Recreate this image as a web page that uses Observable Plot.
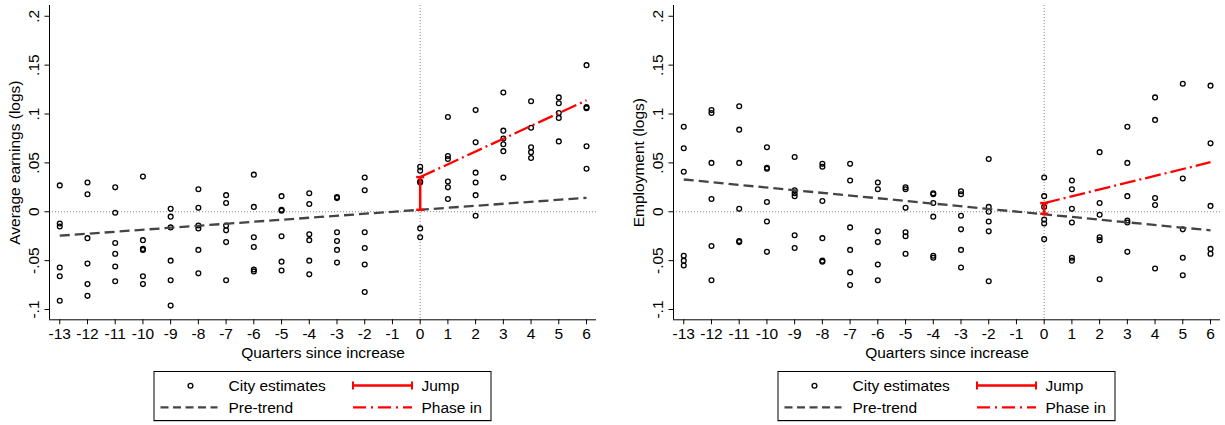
<!DOCTYPE html>
<html><head><meta charset="utf-8">
<script src="https://cdn.jsdelivr.net/npm/d3@7"></script>
<script src="https://cdn.jsdelivr.net/npm/@observablehq/plot@0.6"></script>
<style>
html,body{margin:0;padding:0;background:#fff;}
#wrap{display:flex;width:1225px;height:425px;overflow:hidden;}
.panel{display:flex;flex-direction:column;}
svg{display:block;}
svg text{font-family:"Liberation Sans",Arial,sans-serif;}
</style></head><body><div id="wrap"></div>
<script>
// ---- data ----
const quarters = [-13,-12,-11,-10,-9,-8,-7,-6,-5,-4,-3,-2,0,1,2,3,4,5,6];
const xTicks = [-13,-12,-11,-10,-9,-8,-7,-6,-5,-4,-3,-2,-1,0,1,2,3,4,5,6];
const yTicks = [-0.1,-0.05,0,0.05,0.1,0.15,0.2];
const yTickLabels = ["-.1","-.05","0",".05",".1",".15",".2"];
const xDomain = [-13.37, 6.36];
const yDomain = [-0.1105, 0.211];

const earningsCities = [
  [0.027,-0.012,-0.015,-0.057,-0.066,-0.091],
  [0.030,0.018,-0.027,-0.053,-0.074,-0.086],
  [0.025,-0.001,-0.032,-0.043,-0.056,-0.071],
  [0.036,-0.029,-0.038,-0.039,-0.066,-0.074],
  [0.003,-0.005,-0.016,-0.050,-0.070,-0.096],
  [0.023,0.004,-0.014,-0.017,-0.039,-0.063],
  [0.017,0.009,-0.014,-0.019,-0.031,-0.070],
  [0.038,0.005,-0.026,-0.036,-0.059,-0.061],
  [0.016,0.002,0.001,-0.025,-0.051,-0.060],
  [0.019,0.008,-0.023,-0.029,-0.050,-0.064],
  [0.015,0.014,-0.021,-0.030,-0.039,-0.052],
  [0.035,0.022,-0.021,-0.037,-0.054,-0.082],
  [0.046,0.042,0.031,0.030,-0.017,-0.026],
  [0.097,0.057,0.054,0.031,0.025,0.013],
  [0.104,0.071,0.040,0.030,0.017,-0.004],
  [0.122,0.083,0.075,0.069,0.062,0.035],
  [0.113,0.086,0.066,0.061,0.055],
  [0.117,0.111,0.101,0.096,0.072],
  [0.150,0.107,0.106,0.067,0.044]
];
const employmentCities = [
  [0.087,0.065,0.041,-0.045,-0.050,-0.055],
  [0.104,0.101,0.050,0.013,-0.035,-0.070],
  [0.108,0.084,0.050,0.003,-0.031,-0.030],
  [0.066,0.045,0.044,0.010,-0.010,-0.041],
  [0.056,0.022,0.019,0.016,-0.024,-0.037],
  [0.049,0.046,0.011,-0.027,-0.050,-0.051],
  [0.049,0.032,-0.016,-0.039,-0.062,-0.075],
  [0.030,0.023,-0.020,-0.031,-0.054,-0.070],
  [0.025,0.023,0.004,-0.021,-0.025,-0.043],
  [0.019,0.018,0.009,-0.005,-0.045,-0.047],
  [0.021,0.018,-0.004,-0.018,-0.039,-0.057],
  [0.054,0.005,0.000,-0.010,-0.020,-0.071],
  [0.035,0.016,0.005,-0.008,-0.012,-0.028],
  [0.032,0.023,0.003,-0.011,-0.047,-0.050],
  [0.061,0.009,-0.003,-0.026,-0.029,-0.069],
  [0.087,0.050,0.016,-0.009,-0.011,-0.041],
  [0.117,0.094,0.014,0.007,-0.058],
  [0.131,0.034,-0.018,-0.047,-0.065],
  [0.129,0.070,0.006,-0.038,-0.043]
];

const trendQuarters = [-13, 6];
const earningsPreTrend = [-0.0245, 0.0143];
const employmentPreTrend = [0.033, -0.019];
const phaseQuarters = [0, 6];
const earningsPhaseIn = [0.0355, 0.114];
const employmentPhaseIn = [0.0089, 0.0507];
const jumpQuarter = 0;
const earningsJump = [0.002, 0.0355];
const employmentJump = [-0.002, 0.0089];

const legendLabels = ["City estimates", "Jump", "Pre-trend", "Phase in"];

// ---- drawing ----
const FONT = "Liberation Sans, Arial, sans-serif";
const RED = "#ff0000";
const GRAY = "#444444";
const capSymbol = {draw(ctx) { ctx.moveTo(-4, 0); ctx.lineTo(4, 0); }};

function makePanel(opts) {
  const {width, marginLeft, marginRight, yLabel, cities, preTrend, phaseIn, jump} = opts;
  const height = 366, marginTop = 5, marginBottom = 46.7;
  const pts = [];
  quarters.forEach((q, i) => cities[i].forEach(v => pts.push({q, v})));
  const trend = trendQuarters.map((q, i) => ({q, v: preTrend[i]}));
  const phase = phaseQuarters.map((q, i) => ({q, v: phaseIn[i]}));
  const jumpPts = jump.map(v => ({q: jumpQuarter, v}));

  const plot = Plot.plot({
    width, height, marginLeft, marginRight, marginTop, marginBottom,
    style: {fontFamily: FONT, fontSize: "15.5px", color: "#000", background: "#fff", overflow: "visible"},
    x: {domain: xDomain},
    y: {domain: yDomain},
    marks: [
      Plot.ruleY([0], {stroke: "#888", strokeWidth: 1, strokeDasharray: "1,2"}),
      Plot.ruleX([0], {stroke: "#888", strokeWidth: 1, strokeDasharray: "1,2"}),
      Plot.ruleX([xDomain[0]], {stroke: "#000", strokeWidth: 1}),
      Plot.ruleY([yDomain[0]], {stroke: "#000", strokeWidth: 1}),
      Plot.dot(pts, {x: "q", y: "v", r: 2.4, stroke: "#000", strokeWidth: 1.3, fill: "none"}),
      Plot.line(trend, {x: "q", y: "v", stroke: GRAY, strokeWidth: 2.3, strokeDasharray: "10,5", strokeLinecap: "butt"}),
      Plot.line(phase, {x: "q", y: "v", stroke: RED, strokeWidth: 2.3, strokeDasharray: "16,4,2,4", strokeLinecap: "butt"}),
      Plot.line(jumpPts, {x: "q", y: "v", stroke: RED, strokeWidth: 2.5, strokeLinecap: "butt"}),
      Plot.dot(jumpPts, {x: "q", y: "v", symbol: capSymbol, stroke: RED, strokeWidth: 2.5, fill: "none"}),
      Plot.axisX({ticks: xTicks, tickSize: 5, tickPadding: 3.5, tickFormat: d => String(d),
        label: "Quarters since increase", labelAnchor: "center", labelOffset: 38, labelArrow: "none", fontSize: 15.5}),
      Plot.axisY({ticks: yTicks, tickSize: 4.5, tickPadding: 6, tickRotate: -90,
        tickFormat: d => yTickLabels[yTicks.findIndex(t => Math.abs(t - d) < 1e-9)],
        label: yLabel, labelAnchor: "center", labelOffset: 41, labelArrow: "none", fontSize: 15.5})
    ]
  });

  // legend
  const center = marginLeft + (width - marginLeft - marginRight) / 2;
  const bw = 338, bh = 49;
  const x0 = center - bw / 2, y0 = 5;
  const leg = d3.create("svg").attr("width", width).attr("height", 59)
    .style("font-family", FONT).style("font-size", "15.5px");
  leg.append("line").attr("x1", x0).attr("x2", x0 + bw).attr("y1", y0 + bh + 1).attr("y2", y0 + bh + 1)
    .attr("stroke", "#999").attr("stroke-width", 1);
  leg.append("rect").attr("x", x0 + 0.5).attr("y", y0 + 0.5).attr("width", bw - 1).attr("height", bh)
    .attr("fill", "#fff").attr("stroke", "#000").attr("stroke-width", 1);
  leg.append("circle").attr("cx", x0 + 37).attr("cy", y0 + 14.7).attr("r", 2.4)
    .attr("fill", "none").attr("stroke", "#000").attr("stroke-width", 1.3);
  leg.append("line").attr("x1", x0 + 199.5).attr("x2", x0 + 258.5).attr("y1", y0 + 14.5).attr("y2", y0 + 14.5)
    .attr("stroke", RED).attr("stroke-width", 2.3);
  [199.5, 258.5].forEach(dx => leg.append("line").attr("x1", x0 + dx).attr("x2", x0 + dx)
    .attr("y1", y0 + 10.5).attr("y2", y0 + 18.5).attr("stroke", RED).attr("stroke-width", 2));
  leg.append("line").attr("x1", x0 + 7).attr("x2", x0 + 64).attr("y1", y0 + 36.3).attr("y2", y0 + 36.3)
    .attr("stroke", GRAY).attr("stroke-width", 2.3).attr("stroke-dasharray", "8,4.5");
  leg.append("line").attr("x1", x0 + 199.5).attr("x2", x0 + 258.5).attr("y1", y0 + 36.3).attr("y2", y0 + 36.3)
    .attr("stroke", RED).attr("stroke-width", 2.3).attr("stroke-dasharray", "13,5,2,5");
  const tx = [[75, 20], [268, 20], [75, 41.7], [268, 41.7]];
  legendLabels.forEach((t, i) => leg.append("text").attr("x", x0 + tx[i][0]).attr("y", y0 + tx[i][1])
    .attr("fill", "#000").text(t));

  const div = document.createElement("div");
  div.className = "panel";
  div.style.width = width + "px";
  div.appendChild(plot);
  div.appendChild(leg.node());
  return div;
}

const wrap = document.getElementById("wrap");
wrap.appendChild(makePanel({width: 612, marginLeft: 49, marginRight: 16, yLabel: "Average earnings (logs)",
  cities: earningsCities, preTrend: earningsPreTrend, phaseIn: earningsPhaseIn, jump: earningsJump}));
wrap.appendChild(makePanel({width: 613, marginLeft: 61, marginRight: 5, yLabel: "Employment (logs)",
  cities: employmentCities, preTrend: employmentPreTrend, phaseIn: employmentPhaseIn, jump: employmentJump}));
</script></body></html>
